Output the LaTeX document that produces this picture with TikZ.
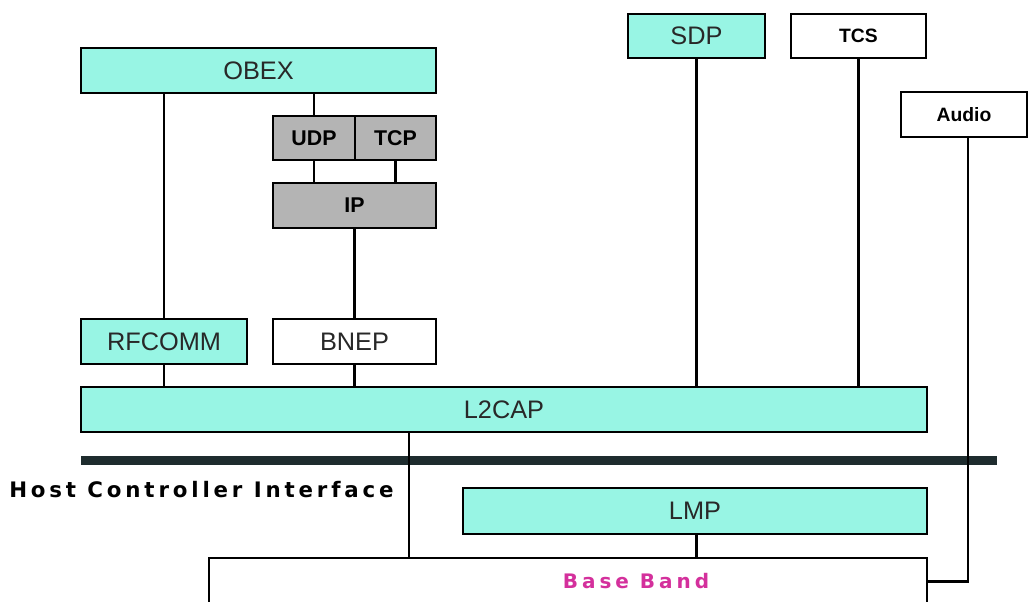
\documentclass[tikz,border=0pt]{standalone}
\usepackage{fontspec}
\setmainfont{Liberation Sans}
\newfontfamily\wideboldfont[LetterSpace=18]{DejaVu Sans Bold}
\newfontfamily\bandfont[LetterSpace=20]{DejaVu Sans Bold}
\usetikzlibrary{fit}
\definecolor{aqua}{RGB}{152,245,228}
\definecolor{grayfill}{RGB}{180,180,180}
\definecolor{hcibar}{RGB}{30,44,46}
\definecolor{labelgray}{RGB}{40,40,40}
\definecolor{bandpink}{RGB}{212,48,156}
\tikzset{
  blk/.style={draw=black, line width=1.6pt, inner sep=0pt,
              label={[text=labelgray, font=\fontsize{19}{19}\selectfont]center:#1}},
  cyanblk/.style={blk=#1, fill=aqua},
  whiteblk/.style={blk=#1, fill=white},
  grayblk/.style={draw=black, line width=1.6pt, inner sep=0pt, fill=grayfill,
              label={[text=black, font=\fontsize{16}{16}\selectfont\bfseries]center:#1}},
  smallblk/.style={draw=black, line width=1.6pt, inner sep=0pt, fill=white,
              label={[text=black, font=\fontsize{14.5}{14.5}\selectfont\bfseries]center:#1}},
  link/.style={line width=2pt, black}
}
\begin{document}
\begin{tikzpicture}[x=0.75pt, y=-0.75pt]
  \useasboundingbox (0,0) rectangle (1028,601);

  % upper protocol blocks
  \node[cyanblk=OBEX, fit={(81,48) (436,93)}] (obex) {};
  \node[cyanblk=SDP, fit={(628,14) (765,58)}] (sdp) {};
  \node[smallblk=TCS, fit={(791,14) (926,58)}] (tcs) {};
  \node[smallblk=Audio, fit={(901,92) (1027,137)}] (audio) {};
  \node[grayblk=UDP, fit={(273,116) (355,160)}] (udp) {};
  \node[grayblk=TCP, fit={(355,116) (436,160)}] (tcp) {};
  \node[grayblk=IP, fit={(273,183) (436,228)}] (ip) {};
  \node[cyanblk=RFCOMM, fit={(81,319) (247,364)}] (rfcomm) {};
  \node[whiteblk=BNEP, fit={(273,319) (436,364)}] (bnep) {};
  \node[cyanblk=L2CAP, fit={(81,387) (927,432)}] (l2cap) {};

  % host controller interface
  \node[fill=hcibar, inner sep=0pt, fit={(81,456) (997,465)}] (hci) {};
  \node[anchor=west, inner sep=0pt, text=black,
        font=\fontsize{16}{16}\wideboldfont] (hcilabel) at (9,490) {Host Controller Interface};

  % lower blocks
  \node[cyanblk=LMP, fit={(463,488) (927,534)}] (lmp) {};
  \node[draw=black, line width=1.6pt, fill=white, inner sep=0pt, fit={(209,558) (927,605)}] (base) {};
  \node[text=bandpink, inner sep=0pt, font=\fontsize{15}{15}\bandfont] (bandlabel) at (636,581) {Base Band};

  \coordinate (hcix) at (409,0);

  % connectors
  \draw[link] (obex.south -| rfcomm) -- (rfcomm.north);
  \draw[link] (obex.south -| udp) -- (udp.north);
  \draw[link] (udp.south) -- (udp.south |- ip.north);
  \draw[link] (tcp.south) -- (tcp.south |- ip.north);
  \draw[link] (ip.south) -- (ip.south |- bnep.north);
  \draw[link] (rfcomm.south) -- (rfcomm.south |- l2cap.north);
  \draw[link] (bnep.south) -- (bnep.south |- l2cap.north);
  \draw[link] (sdp.south) -- (sdp.south |- l2cap.north);
  \draw[link] (tcs.south) -- (tcs.south |- l2cap.north);
  \draw[link] (l2cap.south -| hcix) -- (base.north -| hcix);
  \draw[link] (lmp.south -| sdp) -- (base.north -| sdp);
  \draw[link] ([xshift=3pt]audio.south) |- (base.east);
\end{tikzpicture}
\end{document}
